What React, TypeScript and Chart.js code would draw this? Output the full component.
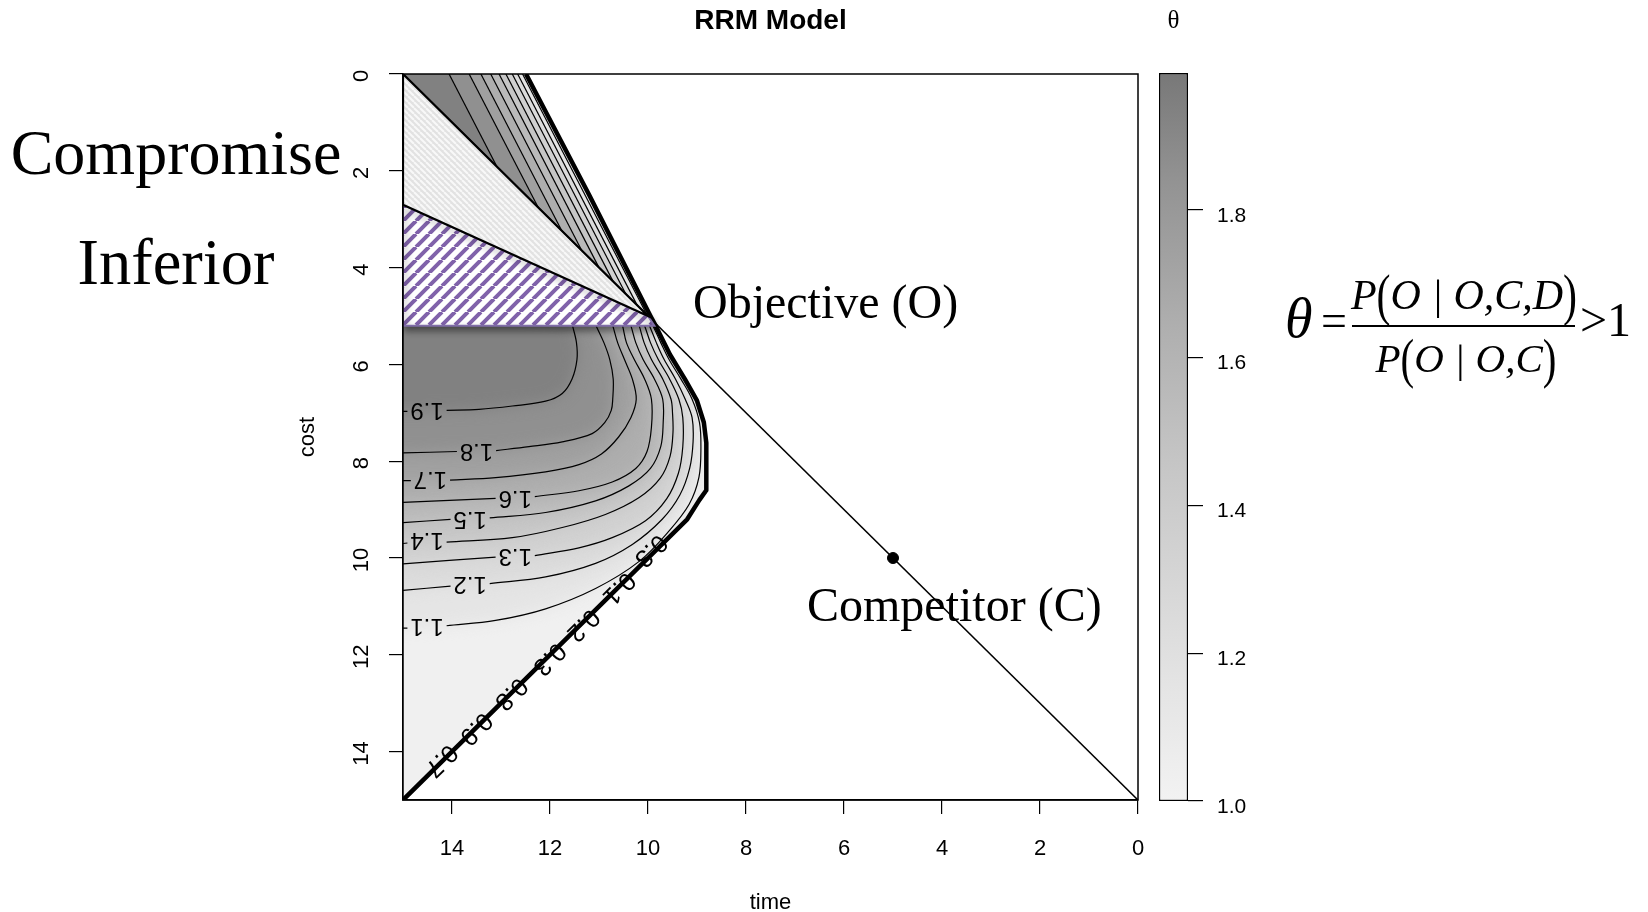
import React, { useEffect, useRef } from "react";
import { Chart, registerables } from "chart.js";

type Pt = [number, number] | null;

const SANS = "'Liberation Sans', Arial, Helvetica, sans-serif";
const SERIF = "'Liberation Serif', 'Times New Roman', serif";

// ---------- axis ticks ----------
const timeTicks = [0, 2, 4, 6, 8, 10, 12, 14];
const costTicks = [0, 2, 4, 6, 8, 10, 12, 14];
const thetaTicks = [1.0, 1.2, 1.4, 1.6, 1.8];
const thetaRange: [number, number] = [1.0, 1.985];

// ---------- contour levels ----------
const levels = [1.1, 1.2, 1.3, 1.4, 1.5, 1.6, 1.7, 1.8, 1.9];

// lower region contour lines (time, cost); null = gap for the label
const lower11: Pt[] = [[15, 11.45], [14.91, 11.45], null, [14.11, 11.4], [13.11, 11.29], [12.09, 11.05], [11.07, 10.63], [10.18, 10.07], [9.57, 9.44], [9.16, 8.89], [8.96, 8.33], [8.92, 7.7], [8.95, 7.2], [9.1, 6.72], [9.33, 6.3], [9.57, 5.9], [9.74, 5.55], [9.9, 5.2], [9.95, 5.1]];
const lower12: Pt[] = [[15, 10.67], [14.03, 10.58], null, [13.23, 10.53], [12.09, 10.39], [11.07, 10.11], [10.32, 9.72], [9.71, 9.2], [9.35, 8.7], [9.15, 8.15], [9.08, 7.6], [9.1, 7.1], [9.24, 6.72], [9.44, 6.3], [9.67, 5.9], [9.83, 5.55], [9.97, 5.2], [10.02, 5.1]];
const lower13: Pt[] = [[15, 10.12], [13.11, 9.98], null, [12.31, 9.95], [11.41, 9.79], [10.73, 9.58], [10.05, 9.23], [9.62, 8.78], [9.38, 8.25], [9.29, 7.7], [9.29, 7.1], [9.37, 6.72], [9.56, 6.3], [9.79, 5.9], [9.95, 5.55], [10.07, 5.2], [10.12, 5.1]];
const lower14: Pt[] = [[15, 9.7], [14.91, 9.69], null, [14.11, 9.67], [12.77, 9.58], [11.75, 9.37], [10.87, 9.1], [10.18, 8.75], [9.75, 8.35], [9.55, 7.9], [9.49, 7.4], [9.5, 7.0], [9.53, 6.72], [9.7, 6.3], [9.93, 5.9], [10.08, 5.55], [10.18, 5.2], [10.22, 5.1]];
const lower15: Pt[] = [[15, 9.27], [14.03, 9.2], null, [13.23, 9.17], [12.09, 9.06], [11.07, 8.82], [10.39, 8.51], [9.95, 8.15], [9.74, 7.7], [9.69, 7.2], [9.7, 6.72], [9.87, 6.3], [10.1, 5.9], [10.25, 5.55], [10.35, 5.2], [10.4, 5.1]];
const lower16: Pt[] = [[15, 8.85], [13.11, 8.77], null, [12.31, 8.73], [11.41, 8.61], [10.73, 8.43], [10.25, 8.15], [10.02, 7.8], [9.93, 7.3], [9.93, 6.72], [10.07, 6.3], [10.28, 5.9], [10.44, 5.55], [10.52, 5.2], [10.56, 5.1]];
const lower17: Pt[] = [[15, 8.4], [14.84, 8.4], null, [14.04, 8.39], [13.11, 8.34], [12.09, 8.22], [11.41, 8.07], [10.95, 7.85], [10.6, 7.5], [10.35, 7.1], [10.24, 6.72], [10.32, 6.3], [10.48, 5.9], [10.62, 5.55], [10.72, 5.2], [10.76, 5.1]];
const lower18: Pt[] = [[15, 7.83], [13.9, 7.8], null, [13.1, 7.78], [12.43, 7.7], [11.75, 7.6], [11.14, 7.43], [10.88, 7.2], [10.75, 6.95], [10.72, 6.72], [10.71, 6.3], [10.78, 5.9], [10.9, 5.55], [11.06, 5.2], [11.1, 5.1]];
const lower19: Pt[] = [[15, 6.97], [14.91, 6.97], null, [14.11, 6.95], [13.45, 6.93], [12.77, 6.86], [12.09, 6.76], [11.75, 6.6], [11.55, 6.3], [11.45, 5.9], [11.46, 5.55], [11.54, 5.2], [11.56, 5.1]];
const lowerContours = [lower11, lower12, lower13, lower14, lower15, lower16, lower17, lower18, lower19];

// label positions of the lower contours (1.1 .. 1.9)
const lowerLabelTime = [14.51, 13.63, 12.71, 14.51, 13.63, 12.71, 14.44, 13.5, 14.51];
const lowerLabelCost = [11.4, 10.53, 9.95, 9.62, 9.18, 8.75, 8.36, 7.78, 6.93];

// upper wedge contours (1.1 .. 1.9): start on cost = 0, end on the diagonal
const upperTopTime = [12.56, 12.66, 12.77, 12.9, 13.04, 13.21, 13.41, 13.65, 14.06];
const upperEndTime = [10.02, 10.22, 10.45, 10.71, 11.0, 11.35, 11.76, 12.24, 13.08];
const upperEndCost = [4.98, 4.78, 4.55, 4.29, 4.0, 3.65, 3.24, 2.76, 1.92];

// edge of the shaded region (bunched low contours)
const boundary: [number, number][] = [[12.49, 0], [11.2, 2.5], [9.95, 5.0], [9.84, 5.21], [9.55, 5.8], [9.25, 6.3], [9.0, 6.75], [8.86, 7.2], [8.81, 7.62], [8.81, 8.6], [8.95, 8.8], [9.2, 9.2], [15, 15]];
const edgeLabelText = ["0.3", "0.1", "0.2", "0.3", "0.8", "0.9", "0.7"];
const edgeLabelTime = [9.95, 10.6, 11.33, 12.02, 12.8, 13.52, 14.23];
const edgeLabelCost = [9.84, 10.62, 11.38, 12.08, 12.8, 13.52, 14.18];

// options / regions
const diagonal: [number, number][] = [[15, 0], [0, 15]];
const competitor: [number, number] = [5, 10];
const compromiseRegion: [number, number][] = [[15, 0], [10, 5], [15, 2.7], [15, 0]];
const inferiorRegion: [number, number][] = [[15, 2.7], [10, 5], [9.87, 5.2], [15, 5.2], [15, 2.7]];
// fill polygons of the lower contours are closed outside the visible plot / under the hatch
const fillEdgeTime = 15.6;
const hiddenCorner: [number, number] = [15.6, 4.6];

// ---------- helpers ----------
function grayFor(v: number) {
  const t = Math.min(1, Math.max(0, (v - thetaRange[0]) / (thetaRange[1] - thetaRange[0])));
  const g0 = Math.pow(0.95, 2.2);
  const g1 = Math.pow(0.47, 2.2);
  const g = Math.pow(g0 + (g1 - g0) * t, 1 / 2.2);
  const c = Math.round(g * 255);
  return `rgb(${c},${c},${c})`;
}
const band = (lv: number) => Math.min(lv + 0.05, 1.94);

const toXY = (arr: Pt[]) => arr.map((p) => (p ? { x: p[0], y: p[1] } : { x: null, y: null }));

function stripePattern(size: number, bg: string, fg: string, width: number, dir: "/" | "\\") {
  const c = document.createElement("canvas");
  c.width = size;
  c.height = size;
  const g = c.getContext("2d")!;
  g.fillStyle = bg;
  g.fillRect(0, 0, size, size);
  g.strokeStyle = fg;
  g.lineWidth = width;
  g.beginPath();
  for (const o of [-size, 0, size]) {
    if (dir === "/") {
      g.moveTo(o, size);
      g.lineTo(o + size, 0);
    } else {
      g.moveTo(o, 0);
      g.lineTo(o + size, size);
    }
  }
  g.stroke();
  return g.createPattern(c, "repeat");
}

// registered before the filler so that its state applies to the fills
const fillFxPlugin = {
  id: "fillFx",
  beforeDatasetDraw(chart: any, args: any) {
    const ds = chart.data.datasets[args.index];
    if (!ds || !(ds.dropShadow || ds.softFill)) return;
    const c = chart.ctx;
    c.save();
    if (ds.dropShadow) {
      c.shadowColor = "rgba(0,0,0,0.45)";
      c.shadowBlur = 7;
      c.shadowOffsetX = 2;
      c.shadowOffsetY = 4;
    }
    if (ds.softFill) {
      const xs = chart.scales.x;
      const ys = chart.scales.y;
      c.beginPath();
      ds.softFill.forEach((p: [number, number], i: number) => {
        const px = xs.getPixelForValue(p[0]);
        const py = ys.getPixelForValue(p[1]);
        if (i) c.lineTo(px, py);
        else c.moveTo(px, py);
      });
      c.closePath();
      c.clip();
      c.filter = "blur(7px)";
    }
  },
  afterDatasetDraw(chart: any, args: any) {
    const ds = chart.data.datasets[args.index];
    if (ds && (ds.dropShadow || ds.softFill)) chart.ctx.restore();
  },
};
Chart.register(fillFxPlugin as any);
Chart.register(...registerables);

const annotatePlugin = {
  id: "annotate",
  afterDatasetsDraw(chart: any) {
    const { ctx, chartArea, scales } = chart;
    const xs = scales.x;
    const ys = scales.y;
    ctx.save();
    ctx.fillStyle = "#000";
    ctx.font = `24px ${SANS}`;
    ctx.textAlign = "center";
    ctx.textBaseline = "middle";
    levels.forEach((lv, i) => {
      ctx.save();
      ctx.translate(xs.getPixelForValue(lowerLabelTime[i]), ys.getPixelForValue(lowerLabelCost[i]));
      ctx.rotate(Math.PI);
      ctx.fillText(lv.toFixed(1), 0, 0);
      ctx.restore();
    });
    const p1x = xs.getPixelForValue(boundary[boundary.length - 1][0]);
    const p1y = ys.getPixelForValue(boundary[boundary.length - 1][1]);
    const p2x = xs.getPixelForValue(boundary[boundary.length - 2][0]);
    const p2y = ys.getPixelForValue(boundary[boundary.length - 2][1]);
    const ang = Math.atan2(p1y - p2y, p1x - p2x);
    ctx.font = `25px ${SANS}`;
    edgeLabelText.forEach((s, i) => {
      ctx.save();
      ctx.translate(xs.getPixelForValue(edgeLabelTime[i]), ys.getPixelForValue(edgeLabelCost[i]));
      ctx.rotate(ang);
      ctx.fillText(s, 0, 0);
      ctx.restore();
    });
    ctx.lineWidth = 1.5;
    ctx.strokeStyle = "#000";
    ctx.strokeRect(chartArea.left, chartArea.top, chartArea.right - chartArea.left, chartArea.bottom - chartArea.top);
    ctx.restore();
  },
};

export default function App() {
  const mainRef = useRef<HTMLCanvasElement>(null);
  const barRef = useRef<HTMLCanvasElement>(null);

  useEffect(() => {
    const mainCtx = mainRef.current!.getContext("2d")!;
    const purple = stripePattern(13, "#ffffff", "rgb(128,98,170)", 4, "/");
    const lightGray = stripePattern(6, "#e2e2e2", "#f8f8f8", 2, "\\");
    const feasible: [number, number][] = [[15, 0], ...boundary];

    const lineDS = (data: Pt[], color: string, width: number, extra: any = {}) => ({
      data: toXY(data),
      borderColor: color,
      borderWidth: width,
      pointRadius: 0,
      pointHoverRadius: 0,
      fill: false,
      tension: 0,
      borderJoinStyle: "round",
      ...extra,
    });
    const fillDS = (data: Pt[], bg: any, extra: any = {}) => ({
      data: toXY(data),
      borderWidth: 0,
      borderColor: "rgba(0,0,0,0)",
      backgroundColor: bg,
      fill: "shape",
      pointRadius: 0,
      pointHoverRadius: 0,
      tension: 0,
      ...extra,
    });

    const layers: any[] = [];
    layers.push(fillDS(feasible, grayFor(1.03)));
    levels.forEach((lv, i) =>
      layers.push(fillDS([[15, 0], [upperTopTime[i], 0], [upperEndTime[i], upperEndCost[i]]], grayFor(band(lv))))
    );
    levels.forEach((lv, i) => {
      const pts = lowerContours[i].filter((p) => p !== null) as [number, number][];
      layers.push(
        fillDS([[fillEdgeTime, pts[0][1]], ...pts, hiddenCorner], grayFor(band(lv)), { tension: 0.35, softFill: feasible })
      );
    });
    levels.forEach((_, i) => layers.push(lineDS([[upperTopTime[i], 0], [upperEndTime[i], upperEndCost[i]]], "#000", 1.2)));
    lowerContours.forEach((c) => layers.push(lineDS(c, "#000", 1.2, { tension: 0.35 })));
    layers.push(lineDS(boundary, "#000", 4.5));
    layers.push(lineDS(diagonal, "#000", 1.6));
    layers.push({ ...fillDS(inferiorRegion, purple), borderWidth: 2, borderColor: "rgb(128,110,168)", dropShadow: true });
    layers.push({ ...fillDS(compromiseRegion, lightGray), borderWidth: 2.2, borderColor: "#000", borderJoinStyle: "miter" });
    layers.push({
      data: [{ x: competitor[0], y: competitor[1] }],
      showLine: false,
      pointRadius: 5.5,
      pointHoverRadius: 5.5,
      pointBackgroundColor: "#000",
      pointBorderColor: "#000",
      borderColor: "#000",
    });
    const datasets = layers.reverse();

    const axisCommon = (ticksArr: number[]) => ({
      type: "linear",
      min: 0,
      max: 15,
      reverse: true,
      afterBuildTicks: (s: any) => {
        s.ticks = ticksArr.map((v) => ({ value: v }));
      },
      grid: { drawOnChartArea: false, drawTicks: true, tickLength: 14, color: "#000", lineWidth: 1.2 },
      border: { display: true, color: "#000", width: 1.5 },
    });

    const main = new Chart(mainCtx, {
      type: "line",
      data: { datasets },
      options: {
        animation: false,
        responsive: false,
        maintainAspectRatio: false,
        events: [],
        layout: { padding: { left: 297, right: 510, top: 0, bottom: 0 } },
        plugins: {
          legend: { display: false },
          tooltip: { enabled: false },
          filler: { propagate: false, drawTime: "beforeDatasetDraw" },
          title: {
            display: true,
            text: "RRM Model",
            fullSize: false,
            color: "#000",
            font: { family: SANS, size: 28, weight: "bold", lineHeight: 1.2 },
            padding: { top: 4, bottom: 36.4 },
          },
        },
        scales: {
          x: {
            ...axisCommon(timeTicks),
            position: "bottom",
            afterFit: (s: any) => {
              s.height = 112;
            },
            ticks: { autoSkip: false, color: "#000", font: { family: SANS, size: 22 }, padding: 22, maxRotation: 0, minRotation: 0 },
            title: { display: true, text: "time", color: "#000", font: { family: SANS, size: 22, lineHeight: 0.8 }, padding: { top: 0, bottom: 0 } },
          },
          y: {
            ...axisCommon(costTicks),
            position: "left",
            afterFit: (s: any) => {
              s.width = 106;
            },
            ticks: { autoSkip: false, color: "#000", font: { family: SANS, size: 22 }, padding: 15, minRotation: 90, maxRotation: 90, crossAlign: "center", labelOffset: 2 },
            title: { display: true, text: "cost", color: "#000", font: { family: SANS, size: 22, lineHeight: 1 }, padding: { top: 0, bottom: 0 } },
          },
        },
      } as any,
      plugins: [annotatePlugin as any],
    });

    const bar = new Chart(barRef.current!.getContext("2d")!, {
      type: "bar",
      data: {
        labels: [""],
        datasets: [
          {
            data: [thetaRange] as any,
            backgroundColor: (c: any) => {
              const chart = c.chart;
              const ys = chart.scales && chart.scales.y;
              if (!chart.chartArea || !ys) return grayFor(1.5);
              const g = chart.ctx.createLinearGradient(0, ys.getPixelForValue(thetaRange[0]), 0, ys.getPixelForValue(thetaRange[1]));
              for (let i = 0; i <= 20; i++) {
                g.addColorStop(i / 20, grayFor(thetaRange[0] + ((thetaRange[1] - thetaRange[0]) * i) / 20));
              }
              return g;
            },
            borderColor: "#000",
            borderWidth: 1.5,
            borderSkipped: false,
            barPercentage: 1,
            categoryPercentage: 1,
          },
        ],
      },
      options: {
        animation: false,
        responsive: false,
        maintainAspectRatio: false,
        events: [],
        layout: { padding: { left: 19, right: 0, top: 0, bottom: 111 } },
        plugins: {
          legend: { display: false },
          tooltip: { enabled: false },
          title: {
            display: true,
            text: "θ",
            fullSize: false,
            color: "#000",
            font: { family: SERIF, size: 25, weight: "normal", lineHeight: 1.2 },
            padding: { top: 6, bottom: 37 },
          },
        },
        scales: {
          x: { type: "category", display: false },
          y: {
            type: "linear",
            position: "right",
            min: thetaRange[0],
            max: thetaRange[1],
            afterBuildTicks: (s: any) => {
              s.ticks = thetaTicks.map((v) => ({ value: v }));
            },
            afterFit: (s: any) => {
              s.width = 112;
            },
            ticks: { autoSkip: false, color: "#000", font: { family: SANS, size: 21 }, padding: 14, labelOffset: 6, callback: (v: any) => Number(v).toFixed(1) },
            grid: { drawOnChartArea: false, drawTicks: true, tickLength: 15, color: "#000", lineWidth: 1.2 },
            border: { display: false },
          },
        },
      } as any,
    });

    return () => {
      main.destroy();
      bar.destroy();
    };
  }, []);

  const abs: React.CSSProperties = { position: "absolute", whiteSpace: "nowrap", lineHeight: 1, color: "#000", fontFamily: SERIF };
  const paren = (ch: string) => (
    <span style={{ display: "inline-block", transform: "scaleY(1.35)", fontStyle: "normal" }}>{ch}</span>
  );

  return (
    <div style={{ position: "absolute", left: 0, top: 0, width: 1648, height: 912, overflow: "hidden", background: "#fff" }}>
      <canvas ref={mainRef} width={1648} height={912} style={{ position: "absolute", left: 0, top: 0, width: 1648, height: 912 }} />
      <canvas ref={barRef} width={160} height={912} style={{ position: "absolute", left: 1140, top: 0, width: 160, height: 912 }} />

      <div style={{ ...abs, left: 0, width: 352, top: 121, fontSize: 64, textAlign: "center" }}>Compromise</div>
      <div style={{ ...abs, left: 2, width: 348, top: 231, fontSize: 64.5, textAlign: "center" }}>Inferior</div>
      <div style={{ ...abs, left: 693, top: 278, fontSize: 48 }}>Objective (O)</div>
      <div style={{ ...abs, left: 807, top: 581, fontSize: 48 }}>Competitor (C)</div>

      <div style={{ ...abs, left: 1285, top: 290, fontSize: 56, fontStyle: "italic" }}>θ</div>
      <div style={{ ...abs, left: 1321, top: 298, fontSize: 46 }}>=</div>
      <div style={{ ...abs, left: 1314, width: 300, top: 274, fontSize: 42, fontStyle: "italic", textAlign: "center" }}>
        P{paren("(")}O | O,C,D{paren(")")}
      </div>
      <div style={{ position: "absolute", left: 1352, top: 324.5, width: 223, height: 2, background: "#000" }} />
      <div style={{ ...abs, left: 1316, width: 300, top: 338, fontSize: 41, fontStyle: "italic", textAlign: "center" }}>
        P{paren("(")}O | O,C{paren(")")}
      </div>
      <div style={{ ...abs, left: 1580, top: 296, fontSize: 48 }}>&gt;1</div>
    </div>
  );
}
